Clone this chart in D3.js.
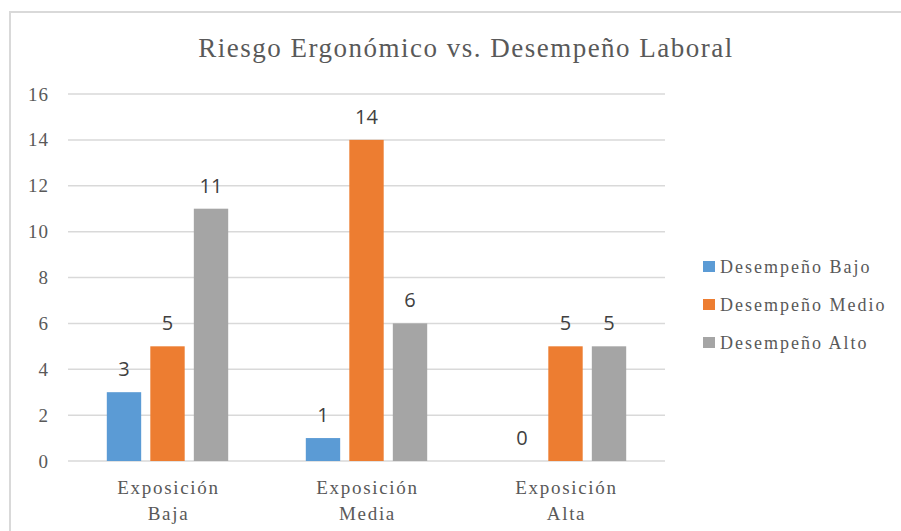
<!DOCTYPE html>
<html>
<head>
<meta charset="utf-8">
<script src="https://cdn.jsdelivr.net/npm/d3@7"></script>
<style>
  body { margin: 0; background: #fff; }
  svg { display: block; }
</style>
</head>
<body>
<svg width="901" height="531"></svg>
<script>
const categories = [['Exposición', 'Baja'], ['Exposición', 'Media'], ['Exposición', 'Alta']];
const seriesNames = ['Desempeño Bajo', 'Desempeño Medio', 'Desempeño Alto'];
const bajo = [3, 1, 0];
const medio = [5, 14, 5];
const alto = [11, 6, 5];
const yTicks = [0, 2, 4, 6, 8, 10, 12, 14, 16];
const colors = ['#5b9bd5', '#ed7d31', '#a5a5a5'];

const seriesValues = [bajo, medio, alto];
const catKeys = categories.map(c => c.join(' '));

const svg = d3.select('svg');
const serif = 'Liberation Serif';

// marco
svg.append('path')
   .attr('d', 'M10,531 L10,12 L901,12')
   .attr('fill', 'none').attr('stroke', '#d9d9d9').attr('stroke-width', 2);

svg.append('text')
   .attr('font-family', serif)
   .attr('x', 466).attr('y', 57)
   .attr('text-anchor', 'middle')
   .attr('font-size', 27)
   .attr('letter-spacing', 1.5)
   .attr('fill', '#595959')
   .text('Riesgo Ergonómico vs. Desempeño Laboral');

const x = d3.scaleBand().domain(catKeys).range([68, 665])
            .paddingInner(0.39).paddingOuter(0.195);
const xs = d3.scaleBand().domain(seriesNames).range([0, x.bandwidth()])
             .paddingInner(0.21);
const y = d3.scaleLinear().domain([0, 16]).range([461, 94]);

// líneas de cuadrícula
svg.append('g').selectAll('line')
   .data(yTicks).join('line')
   .attr('x1', 68).attr('x2', 665)
   .attr('y1', d => y(d)).attr('y2', d => y(d))
   .attr('stroke', '#d9d9d9').attr('stroke-width', 1.5);

// etiquetas eje y
svg.append('g').selectAll('text')
   .data(yTicks).join('text')
   .attr('font-family', serif)
   .attr('x', 49).attr('y', d => y(d) + 6.5)
   .attr('text-anchor', 'end')
   .attr('font-size', 19)
   .attr('letter-spacing', 1)
   .attr('fill', '#595959')
   .text(d => d);

// barras
const groups = svg.append('g').selectAll('g')
   .data(seriesNames).join('g')
   .attr('fill', (d, i) => colors[i]);

groups.selectAll('rect')
   .data((s, si) => seriesValues[si].map((v, ci) => ({s, v, c: catKeys[ci]})))
   .join('rect')
   .attr('x', d => x(d.c) + xs(d.s))
   .attr('width', xs.bandwidth())
   .attr('y', d => y(d.v))
   .attr('height', d => y(0) - y(d.v));

// etiquetas de datos
groups.selectAll('text')
   .data((s, si) => seriesValues[si].map((v, ci) => ({s, v, c: catKeys[ci]})))
   .join('text')
   .attr('x', d => x(d.c) + xs(d.s) + xs.bandwidth() / 2)
   .attr('y', d => y(d.v) - 16)
   .attr('text-anchor', 'middle')
   .attr('font-family', 'Open Sans')
   .attr('font-size', 20)
   .attr('fill', '#404040')
   .text(d => d.v);

// etiquetas de categoría
const catLabels = svg.append('g').selectAll('text')
   .data(categories).join('text')
   .attr('font-family', serif)
   .attr('text-anchor', 'middle')
   .attr('font-size', 19)
   .attr('letter-spacing', 1.7)
   .attr('fill', '#595959');
catLabels.selectAll('tspan')
   .data((d, i) => d.map(t => ({t, k: catKeys[i]})))
   .join('tspan')
   .attr('x', d => x(d.k) + x.bandwidth() / 2 + 1)
   .attr('y', (d, i) => 494 + i * 26)
   .text(d => d.t);

// leyenda
const legend = svg.append('g').selectAll('g')
   .data(seriesNames).join('g')
   .attr('transform', (d, i) => `translate(703,${266 + i * 38})`);
legend.append('rect')
   .attr('x', 0).attr('y', -5).attr('width', 12).attr('height', 11)
   .attr('fill', (d, i) => colors[i]);
legend.append('text')
   .attr('font-family', serif)
   .attr('x', 17).attr('y', 6.5)
   .attr('font-size', 18)
   .attr('letter-spacing', 2)
   .attr('fill', '#595959')
   .text(d => d);
</script>
</body>
</html>
